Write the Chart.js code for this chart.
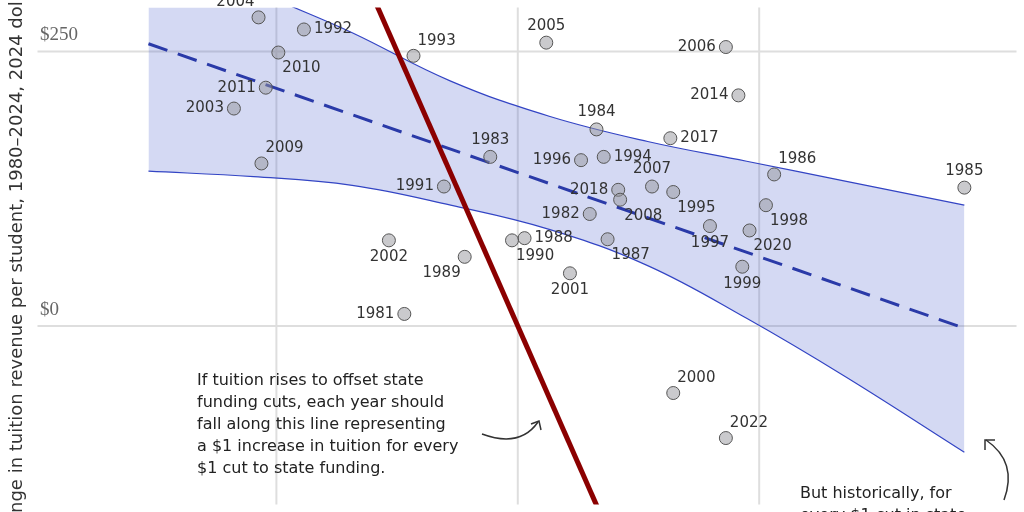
<!DOCTYPE html>
<html>
<head>
<meta charset="utf-8">
<script src="https://cdn.jsdelivr.net/npm/chart.js@4/dist/chart.umd.min.js"></script>
<style>
  html, body { margin: 0; padding: 0; background: #fff; }
  #wrap { width: 1024px; height: 512px; }
</style>
</head>
<body>
<div id="wrap"><canvas id="c"></canvas></div>
<script>
// change in state funding per student (x) vs change in tuition revenue per student (y)
const years = [2004, 1992, 2010, 2011, 2003, 2009, 1993, 2005, 2006, 2014, 1984, 1994,
  2017, 1996, 1983, 1991, 2018, 2007, 2008, 1995, 1986, 1985, 1998, 1982, 1997, 2020,
  1988, 1990, 2002, 1989, 1987, 1999, 2001, 1981, 2000, 2022];
const stateChange = [-537, -443, -496, -522, -588, -531, -216, 59, 431, 457, 163, 178,
  316, 131, -57, -153, 208, 278, 212, 322, 531, 925, 514, 149, 398, 480,
  14, -12, -267, -110, 186, 465, 108, -235, 322, 431];
const tuitionChange = [281, 270, 249, 217, 198, 148, 246, 258, 254, 210, 179, 154,
  171, 151, 154, 127, 124, 127, 115, 122, 138, 126, 110, 102, 91, 87,
  80, 78, 78, 63, 79, 54, 48, 11, -61, -102];

// fitted trend and confidence band
const bandX = [-765, -547, -343, -139, 65, 269, 474, 678, 925];
const bandUpper = [360, 307, 267, 223, 191, 168, 150, 132, 110];
const bandLower = [141, 136, 128, 110, 88, 55, 7, -46, -115];
const trendX = [-765, 925];
const trendY = [257, -2];

// one-for-one offset line
const offsetX = [-320, 220];
const offsetY = [320, -220];

const xGrid = [-500, 0, 500];
const yGrid = [0, 250];
const yTickLabels = ['$0', '$250'];

const note1 = ['If tuition rises to offset state', 'funding cuts, each year should',
  'fall along this line representing', 'a $1 increase in tuition for every', '$1 cut to state funding.'];
const note2 = ['But historically, for', 'every $1 cut in state'];
const yTitle = 'Change in tuition revenue per student, 1980–2024, 2024 dollars';

// label placement per year: r right, l left, a above, b below, br below-right etc.
const place = {
  2004: 'al', 1992: 'r', 2010: 'br', 2011: 'l', 2003: 'l', 2009: 'ar', 1993: 'ar',
  2005: 'a', 2006: 'l', 2014: 'l', 1984: 'a', 1994: 'r', 2017: 'r', 1996: 'l',
  1983: 'a', 1991: 'l', 2018: 'l', 2007: 'a', 2008: 'br', 1995: 'br', 1986: 'ar',
  1985: 'a', 1998: 'br', 1982: 'l', 1997: 'b', 2020: 'br', 1988: 'r', 1990: 'br',
  2002: 'b', 1989: 'bl', 1987: 'br', 1999: 'b', 2001: 'b', 1981: 'l', 2000: 'ar', 2022: 'ar'
};

const pts = years.map((y, i) => ({ x: stateChange[i], y: tuitionChange[i] }));
const zip = (a, b) => a.map((v, i) => ({ x: v, y: b[i] }));

const decor = {
  id: 'decor',
  beforeDatasetsDraw(chart) {
    const { ctx, scales: { x, y }, chartArea: a } = chart;
    ctx.save();
    ctx.strokeStyle = '#dedede';
    ctx.lineWidth = 2;
    xGrid.forEach(v => {
      const px = x.getPixelForValue(v);
      ctx.beginPath(); ctx.moveTo(px, a.top); ctx.lineTo(px, a.bottom); ctx.stroke();
    });
    yGrid.forEach(v => {
      const py = y.getPixelForValue(v);
      ctx.beginPath(); ctx.moveTo(a.left + 30, py); ctx.lineTo(a.right, py); ctx.stroke();
    });
    ctx.fillStyle = '#666';
    ctx.font = '19px "Liberation Serif", serif';
    ctx.textBaseline = 'middle';
    yGrid.forEach((v, i) => {
      ctx.fillText(yTickLabels[i], 40, y.getPixelForValue(v) - 16);
    });
    // y axis title, partly off canvas
    ctx.translate(17, 548);
    ctx.rotate(-Math.PI / 2);
    ctx.fillStyle = '#333';
    ctx.font = '18px "DejaVu Sans", sans-serif';
    ctx.fillText(yTitle, 0, 0);
    ctx.restore();
  },
  afterDatasetsDraw(chart) {
    const { ctx } = chart;
    const meta = chart.getDatasetMeta(0);
    ctx.save();
    ctx.font = '15px "DejaVu Sans", sans-serif';
    ctx.fillStyle = '#333';
    meta.data.forEach((el, i) => {
      const p = place[years[i]] || 'r';
      let dx = 0, dy = 0, al = 'center';
      if (p === 'r') { dx = 10; al = 'left'; }
      if (p === 'l') { dx = -10; al = 'right'; }
      if (p === 'a') { dy = -17; }
      if (p === 'b') { dy = 17; }
      if (p === 'ar') { dx = 4; dy = -15; al = 'left'; }
      if (p === 'al') { dx = -4; dy = -15; al = 'right'; }
      if (p === 'br') { dx = 4; dy = 16; al = 'left'; }
      if (p === 'bl') { dx = -4; dy = 16; al = 'right'; }
      ctx.textAlign = al;
      ctx.textBaseline = 'middle';
      ctx.fillText(String(years[i]), el.x + dx, el.y + dy);
    });
    // notes
    ctx.textAlign = 'left';
    ctx.font = '16px "DejaVu Sans", sans-serif';
    ctx.fillStyle = '#222';
    note1.forEach((t, i) => ctx.fillText(t, 197, 381 + i * 22));
    note2.forEach((t, i) => ctx.fillText(t, 800, 494 + i * 22));
    // arrows
    ctx.strokeStyle = '#333';
    ctx.lineWidth = 1.5;
    ctx.beginPath();
    ctx.moveTo(482, 434);
    ctx.quadraticCurveTo(520, 448, 538, 422);
    ctx.stroke();
    ctx.beginPath();
    ctx.moveTo(531, 424); ctx.lineTo(539, 421); ctx.lineTo(541, 430);
    ctx.stroke();
    ctx.beginPath();
    ctx.moveTo(1004, 500);
    ctx.quadraticCurveTo(1018, 462, 986, 440);
    ctx.stroke();
    ctx.beginPath();
    ctx.moveTo(985, 450); ctx.lineTo(985, 440); ctx.lineTo(995, 440);
    ctx.stroke();
    ctx.restore();
  }
};

new Chart(document.getElementById('c'), {
  type: 'scatter',
  data: {
    datasets: [
      { data: pts, order: 0, pointRadius: 6.5, pointHoverRadius: 6.5,
        backgroundColor: 'rgba(150,150,155,0.5)', borderColor: '#555', borderWidth: 1 },
      { data: zip(offsetX, offsetY), order: 1, showLine: true, pointRadius: 0,
        borderColor: '#8b0000', borderWidth: 5 },
      { data: zip(trendX, trendY), order: 2, showLine: true, pointRadius: 0,
        borderColor: '#2a3aa8', borderWidth: 3, borderDash: [20, 11] },
      { data: zip(bandX, bandUpper), order: 3, showLine: true, pointRadius: 0, tension: 0.4,
        borderColor: '#3344c4', borderWidth: 1.2, fill: '+1', backgroundColor: 'rgba(60,80,200,0.22)' },
      { data: zip(bandX, bandLower), order: 4, showLine: true, pointRadius: 0, tension: 0.4,
        borderColor: '#3344c4', borderWidth: 1.2 }
    ]
  },
  options: {
    responsive: true,
    maintainAspectRatio: false,
    animation: false,
    layout: { padding: 0 },
    plugins: { legend: { display: false }, tooltip: { enabled: false } },
    scales: {
      x: { type: 'linear', min: -1057, max: 1033, display: false },
      y: { type: 'linear', min: -162.5, max: 290, display: false }
    }
  },
  plugins: [decor]
});
</script>
</body>
</html>
